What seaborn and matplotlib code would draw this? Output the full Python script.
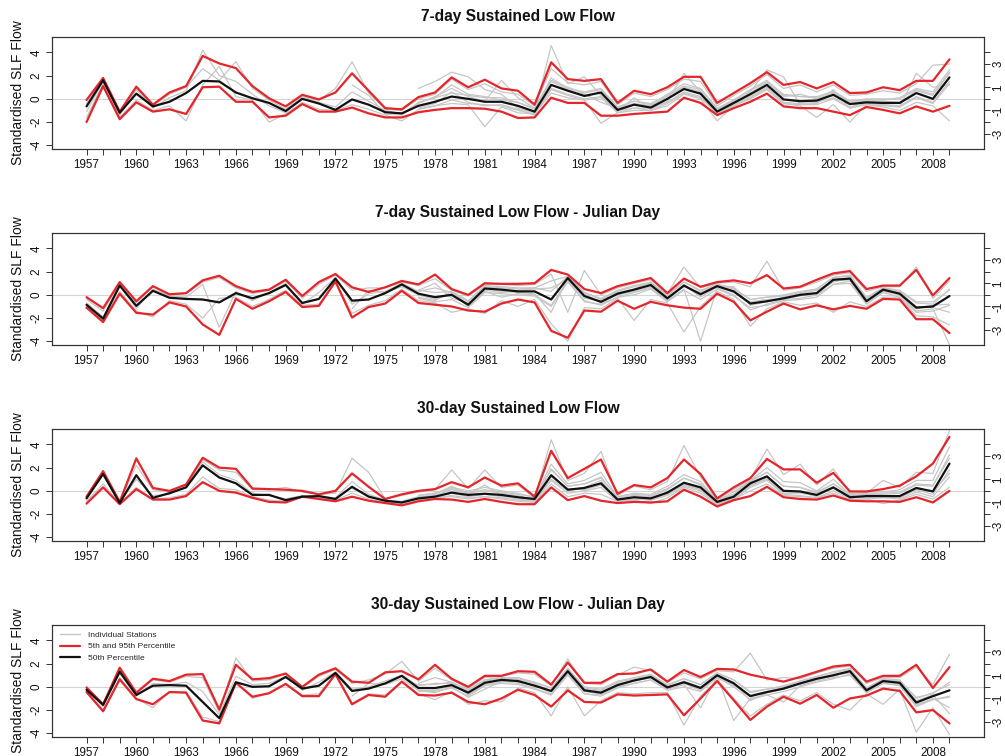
import numpy as np
import pandas as pd
import matplotlib
matplotlib.use("Agg")
import matplotlib.pyplot as plt
from matplotlib.lines import Line2D
import seaborn as sns

sns.set_theme(style="white")
plt.rcParams['font.family'] = ['Liberation Sans', 'DejaVu Sans']

years = list(range(1957, 2010))
titles = ["7-day Sustained Low Flow",
          "7-day Sustained Low Flow - Julian Day",
          "30-day Sustained Low Flow",
          "30-day Sustained Low Flow - Julian Day"]
y_label = "Standardised SLF Flow"
legend_labels = ["Individual Stations", "5th and 95th Percentile", "50th Percentile"]

# ---------------- Panel 1: 7-day SLF ----------------
p1_upper = [-0.1, 1.8, -1.1,
            1.05, -0.5, 0.55, 1.1, 3.7, 3.05, 2.65, 1.1, 0.05, -0.65,
            0.35, -0.05, 0.55, 2.2, 0.7, -0.8, -0.9, 0.15, 0.55, 1.85,
            1.0, 1.65, 0.9, 0.7, -0.5, 3.15, 1.7, 1.55, 1.7, -0.35,
            0.7, 0.4, 1.0, 1.9, 1.9, -0.35, 0.5, 1.35, 2.3, 1.2,
            1.45, 0.9, 1.45, 0.5, 0.55, 1.0, 0.75, 1.55, 1.55, 3.4]
p1_lower = [-2.0, 1.1, -1.75,
            -0.3, -1.1, -0.9, -1.3, 1.0, 1.05, -0.25, -0.25, -1.6, -1.45,
            -0.45, -1.1, -1.1, -0.75, -1.25, -1.6, -1.6, -1.15, -0.95, -0.8,
            -0.8, -0.85, -1.1, -1.65, -1.6, 0.1, -0.35, -0.35, -1.45, -1.45,
            -1.3, -1.2, -1.1, 0.1, -0.35, -1.4, -0.8, -0.25, 0.45, -0.65,
            -0.8, -0.8, -1.1, -1.4, -0.7, -0.95, -1.25, -0.65, -1.1, -0.6]
p1_median = [-0.65, 1.6, -1.2,
             0.45, -0.65, -0.25, 0.5, 1.55, 1.5, 0.55, 0.05, -0.35, -1.05,
             0.0, -0.4, -0.95, -0.05, -0.5, -1.15, -1.25, -0.6, -0.25, 0.2,
             0.0, -0.25, -0.25, -0.6, -1.1, 1.2, 0.7, 0.25, 0.55, -0.95,
             -0.5, -0.75, 0.0, 0.85, 0.45, -1.1, -0.35, 0.4, 1.2, -0.05,
             -0.2, -0.15, 0.35, -0.45, -0.3, -0.35, -0.35, 0.5, 0.0, 1.85]
p1_stations = [
    [-1.1, 1.5, -1.4,
     0.8, -0.8, 0.1, 0.7, 4.2, 2.0, 1.5, 0.4, -0.6, -1.2,
     0.2, -0.3, -0.7, 0.6, -0.2, -1.0, -1.3, -0.3, 0.1, 1.2,
     0.4, 0.2, -0.1, -0.3, -0.9, 1.8, 0.9, 0.6, 0.9, -0.7,
     -0.2, -0.5, 0.4, 1.3, 0.9, -0.8, -0.1, 0.8, 1.6, 0.3,
     0.2, 0.1, 0.7, -0.2, -0.1, -0.1, 0.1, 0.9, 0.6, 2.5],
    [-1.6, 1.3, -1.6,
     -0.1, -1.0, -0.6, -1.9, 1.2, 2.8, 0.2, -0.1, -2.0, -1.3,
     -0.3, -0.9, -1.0, -0.5, -0.9, -1.4, -1.9, -0.9, -0.6, -0.4,
     -0.5, -2.4, -0.7, -1.2, -1.3, 0.5, 0.1, -0.1, -2.1, -1.2,
     -1.0, -1.0, -0.6, 0.4, 0.0, -1.9, -0.6, 0.0, 0.8, -0.4,
     -0.6, -1.6, -0.5, -2.0, -0.5, -0.7, -1.0, -0.3, -0.6, -1.9],
    [-0.4, 1.7, -1.2,
     0.9, -0.6, 0.4, 1.0, 2.6, 1.6, 3.2, 0.9, -0.1, -0.9,
     0.3, -0.1, 0.9, 3.2, 0.5, -0.9, -1.0, 0.0, 0.4, 1.7,
     0.8, 1.3, 0.6, 0.4, -0.6, 2.6, 1.4, 1.2, 1.5, -0.5,
     0.5, 0.2, 0.8, 1.7, 1.5, -0.6, 0.3, 1.1, 2.1, 0.9,
     1.2, 0.6, 1.2, 0.3, 0.4, 0.7, 0.5, 1.3, 2.9, 3.0],
    [None] * 20 +
    [0.9, 1.5, 2.3,
     1.9, 0.8, 0.4, -0.8, -1.2, 4.6, 1.3, 1.9, 0.3, -1.1,
     0.1, -0.9, -0.2, 2.2, 0.6, -1.3, -0.5, 0.6, 2.5, 1.9,
     -0.5, -0.4, 0.8, -0.8, 0.0, -0.5, -0.7, 2.2, 1.0, 1.2],
    [None] * 20 +
    [-0.8, -0.4, 0.6,
     -0.3, -0.6, -0.5, -0.9, -1.4, 0.9, 0.4, 0.0, 0.2, -1.0,
     -0.8, -0.8, -0.3, 0.6, 0.2, -1.2, -0.5, 0.2, 1.0, -0.3,
     -0.4, -0.3, 0.1, -0.7, -0.4, -0.5, -0.6, 0.2, -0.3, 1.5],
    [None] * 16 +
    [1.2, 0.3, -1.3, -1.4, -0.4, 0.2, 0.9,
     0.2, -0.2, 1.6, 0.1, -0.8, 1.5, 0.8, 0.4, -0.3, -0.8,
     -0.4, -0.6, 0.2, 1.0, 0.6, -1.0, -0.2, 0.5, 1.4, 0.2,
     0.4, 0.0, 0.5, -0.3, -0.2, -0.2, -0.3, 0.7, 0.3, 2.2],
    [None] * 20 +
    [-0.3, 0.1, 0.5,
     0.3, 0.1, 0.1, -0.3, -0.8, 1.6, 1.0, 0.5, 0.8, -0.7,
     -0.2, -0.4, 0.3, 1.1, 0.8, -0.9, -0.1, 0.7, 1.5, 0.4,
     0.2, 0.2, 0.6, -0.2, 0.0, 0.0, 0.0, 0.8, 0.4, 2.3],
    [None] * 20 +
    [-0.9, -0.6, -0.1,
     -0.4, -0.5, -0.6, -1.0, -1.3, 0.8, 0.3, -0.1, 0.1, -1.2,
     -0.8, -1.0, -0.4, 0.5, 0.1, -1.3, -0.6, 0.1, 0.9, -0.4,
     -0.5, -0.5, 0.0, -0.8, -0.5, -0.6, -0.7, 0.1, -0.4, 1.3],
]

# ---------------- Panel 2: 7-day SLF Julian day ----------------
p2_upper = [-0.2, -1.15, 1.1,
            -0.55, 0.75, 0.05, 0.15, 1.25, 1.65, 0.75, 0.25, 0.45, 1.3,
            -0.1, 1.1, 1.8, 0.65, 0.25, 0.65, 1.2, 0.9, 1.75, 0.5,
            0.0, 1.0, 0.95, 0.95, 1.0, 2.15, 1.75, 0.5, 0.15, 0.75,
            1.1, 1.45, 0.15, 1.4, 0.7, 1.1, 1.25, 1.0, 1.7, 0.55,
            0.7, 1.3, 1.85, 2.05, 0.5, 0.8, 0.8, 2.15, -0.05, 1.45]
p2_lower = [-1.1, -2.35, 0.1,
            -1.55, -1.7, -0.65, -1.0, -2.55, -3.45, -0.35, -1.2, -0.55, 0.25,
            -1.05, -0.95, 1.15, -1.95, -1.05, -0.75, 0.35, -0.7, -0.85, -1.0,
            -1.35, -1.45, -0.75, -0.4, -0.65, -3.1, -3.7, -1.35, -1.45, -0.5,
            -1.2, -0.6, -0.9, -1.1, -1.2, 0.1, -0.6, -2.2, -1.45, -0.75,
            -1.25, -0.9, -1.25, -0.95, -1.2, -0.35, -0.4, -2.1, -2.1, -3.3]
p2_median = [-0.85, -2.05, 0.8,
             -0.95, 0.35, -0.25, -0.35, -0.4, -0.65, 0.15, -0.3, 0.15, 0.85,
             -0.7, -0.35, 1.4, -0.5, -0.4, 0.15, 0.9, 0.1, -0.2, 0.0,
             -0.85, 0.55, 0.45, 0.3, 0.3, -0.4, 1.45, -0.1, -0.6, 0.1,
             0.45, 0.85, -0.3, 0.8, 0.05, 0.75, 0.3, -0.75, -0.55, -0.3,
             0.0, 0.15, 1.3, 1.4, -0.55, 0.45, 0.1, -1.1, -1.0, -0.1]
p2_stations = [
    [-0.7, -1.9, 0.9,
     -1.2, 0.5, -0.1, -0.2, 0.9, -2.8, 0.3, -0.5, 0.2, 1.0,
     -0.8, 0.2, 1.5, -0.8, 0.1, 0.3, 1.0, 0.3, 0.6, 0.2,
     -0.6, 0.7, 0.6, 0.5, 0.6, 1.2, 1.6, 0.2, -0.4, 0.3,
     0.7, 1.0, -0.1, 1.1, 0.3, 0.9, 0.5, -0.4, -0.2, -0.1,
     0.2, 0.5, 1.5, 1.6, -0.3, 0.6, 0.3, -0.7, -0.8, 0.5],
    [-1.0, -2.2, 0.3,
     -1.4, -1.9, -0.5, -0.8, -2.0, -0.3, -0.2, -1.0, -0.4, 0.4,
     -0.9, -0.8, 1.2, -1.6, -0.9, -0.5, 0.5, -0.5, -0.7, -1.5,
     -1.2, -1.6, -0.5, -1.0, -0.4, -2.5, -4.0, -1.1, -1.2, -0.3,
     -2.2, -0.4, -0.7, -3.2, -1.0, 0.3, -0.4, -2.7, -1.2, -0.6,
     -0.9, -0.7, -1.5, -0.6, -1.0, -0.2, -0.2, -1.8, -1.9, -2.6],
    [-0.4, -1.4, 1.0,
     -0.7, 0.7, 0.0, 0.1, 1.1, 1.5, 0.6, 0.1, 0.4, 1.2,
     -0.3, 0.9, 1.7, 0.4, 0.6, 0.6, 1.1, 0.8, 1.4, 0.4,
     -0.1, 0.9, 0.9, 0.8, 0.9, 1.8, -1.5, 2.1, 0.0, 0.6,
     1.0, 1.3, 0.1, 2.4, 0.6, 1.0, 1.1, 0.7, 2.9, 0.4,
     0.6, 1.1, 1.7, 1.9, 0.3, 0.7, 0.7, 2.4, -0.3, 1.2],
    [None] * 16 +
    [-1.2, 0.4, 0.2, 0.7, 0.0, -0.4, 0.1,
     -1.0, 0.3, -0.2, 0.1, 0.0, -0.9, 1.2, -0.6, -0.8, -0.2,
     0.2, 0.6, -0.5, 0.5, -4.0, 0.6, 0.0, -1.3, -0.8, -0.4,
     -0.3, 0.0, 0.9, 1.2, -0.8, 0.3, 0.0, -1.4, -1.2, -4.3],
    [None] * 20 +
    [0.4, 1.0, -0.3,
     -0.7, 0.4, 0.2, 0.4, 0.5, 0.6, 1.3, -0.3, -0.5, 0.2,
     0.5, 1.1, -0.2, 0.7, 0.2, 0.8, 0.7, -0.9, -0.6, -0.2,
     0.1, 0.4, 1.2, 1.3, -0.4, 0.5, 0.2, -1.0, -1.1, -1.5],
    [None] * 20 +
    [-0.2, -0.5, 0.3,
     -0.9, 0.6, 0.3, 0.2, 0.1, -1.5, 1.5, 0.1, -0.7, 0.0,
     0.3, 0.7, -0.4, 0.9, -0.2, 0.7, 0.2, -0.6, -0.4, -0.3,
     -0.1, 0.2, 1.1, 1.5, -0.6, 0.4, 0.0, -1.2, -0.9, -0.8],
    [None] * 20 +
    [0.4, 0.2, 0.3,
     -0.5, 0.8, 0.7, 0.6, 0.6, 0.3, 1.6, 0.2, -0.3, 0.4,
     0.8, 1.1, 0.0, 1.1, 0.4, 0.9, 0.6, -0.4, -0.2, 0.0,
     0.3, 0.5, 1.5, 1.7, -0.2, 0.6, 0.4, -0.6, -0.6, 0.4],
    [None] * 20 +
    [-0.3, -0.6, -0.4,
     -1.1, 0.2, 0.1, 0.0, -0.1, -1.0, 1.1, -0.5, -0.9, -0.2,
     0.0, 0.5, -0.6, 0.4, -0.4, 0.5, -0.1, -1.1, -0.9, -0.5,
     -0.4, -0.2, 0.9, 1.0, -0.8, 0.2, -0.2, -1.5, -1.4, -0.9],
]

# ---------------- Panel 3: 30-day SLF ----------------
p3_upper = [-0.5, 1.7, -0.95,
            2.8, 0.25, 0.0, 0.55, 2.85, 2.0, 1.9, 0.2, 0.15, 0.1,
            0.0, -0.3, 0.0, 1.5, 0.35, -0.7, -0.3, 0.0, 0.15, 0.75,
            0.3, 1.15, 0.45, 0.65, -0.5, 3.45, 1.1, 1.9, 2.7, -0.25,
            0.5, 0.3, 1.1, 2.7, 1.45, -0.65, 0.3, 1.1, 2.75, 1.85,
            1.85, 0.7, 1.55, -0.05, -0.05, 0.15, 0.45, 1.25, 2.35, 4.65]
p3_lower = [-1.1, 0.3, -1.15,
            0.15, -0.75, -0.75, -0.45, 0.75, 0.0, -0.15, -0.6, -0.95, -1.0,
            -0.5, -0.7, -0.9, -0.5, -0.85, -1.05, -1.25, -0.9, -0.7, -0.75,
            -0.95, -0.7, -0.95, -1.15, -1.15, 0.3, -0.8, -0.45, -0.85, -1.05,
            -0.95, -1.0, -0.9, 0.1, -0.5, -1.35, -0.8, -0.45, 0.35, -0.55,
            -0.7, -0.75, -0.4, -0.85, -0.9, -0.9, -0.95, -0.55, -1.0, 0.0]
p3_median = [-0.65, 1.45, -1.05,
             1.35, -0.6, -0.2, 0.3, 2.2, 1.15, 0.65, -0.35, -0.35, -0.8,
             -0.5, -0.45, -0.7, 0.35, -0.5, -0.85, -1.0, -0.65, -0.5, -0.15,
             -0.35, -0.25, -0.35, -0.55, -0.7, 1.35, 0.1, 0.25, 0.65, -0.75,
             -0.55, -0.65, -0.15, 0.7, 0.3, -0.95, -0.5, 0.65, 1.25, 0.0,
             -0.05, -0.35, 0.3, -0.55, -0.45, -0.45, -0.45, 0.25, -0.05, 2.35]
p3_stations = [
    [-0.6, 1.5, -1.0,
     1.0, -0.4, -0.3, 0.4, 2.5, 1.4, 0.9, -0.2, -0.4, -0.7,
     -0.4, -0.5, -0.6, 0.8, -0.3, -0.8, -0.9, -0.5, -0.4, 0.1,
     -0.2, 0.0, -0.2, -0.4, -0.8, 1.9, 0.4, 0.6, 1.2, -0.6,
     -0.4, -0.5, 0.1, 1.1, 0.5, -0.9, -0.3, 0.8, 1.6, 0.4,
     0.3, -0.2, 0.6, -0.4, -0.3, -0.3, -0.2, 0.5, 0.4, 3.1],
    [-0.9, 0.6, -1.1,
     0.3, -0.7, -0.6, -0.3, 1.2, 0.2, 0.1, -0.5, -0.8, -0.9,
     -0.5, -0.6, -0.8, -0.2, -0.7, -1.0, -1.2, -0.8, -0.6, -0.5,
     -0.7, -0.5, -0.7, -0.9, -1.0, 0.6, -0.5, -0.2, -0.3, -0.9,
     -0.8, -1.1, -0.6, 0.3, -0.2, -1.2, -0.7, 0.0, 0.6, -0.4,
     -0.5, -0.6, -0.2, -0.8, -0.7, -1.1, -0.8, -0.3, -0.7, 0.3],
    [-0.5, 1.6, -1.0,
     2.2, 0.1, -0.1, 0.5, 2.7, 1.8, 1.6, 0.1, 0.1, 0.3,
     -0.1, -0.3, -0.2, 2.8, 1.6, -0.7, -0.4, -0.1, 0.1, 1.8,
     0.2, 1.8, 0.3, 0.5, -0.6, 4.4, 0.9, 1.5, 3.4, -0.4,
     0.4, 0.1, 0.8, 3.9, 1.2, -0.7, 0.1, 1.0, 3.6, 1.4,
     2.3, 0.5, 1.9, -0.2, -0.2, 0.9, 0.3, 1.6, 1.5, 5.2],
    [None] * 16 +
    [0.2, -0.4, -0.9, -1.1, -0.6, -0.3, 0.4,
     -0.3, 0.5, -0.4, -0.7, -0.9, 1.0, 0.0, 0.3, 0.9, -0.8,
     -0.7, -0.7, -0.3, 0.6, 0.2, -1.0, -0.6, 0.5, 1.0, -0.2,
     -0.2, -0.4, 0.2, -0.6, -0.5, -0.5, -0.6, 0.1, -0.3, 1.8],
    [None] * 20 +
    [-0.4, -0.2, 0.3,
     0.0, 0.3, 0.0, -0.2, -0.6, 2.3, 0.6, 0.9, 1.6, -0.5,
     -0.2, -0.3, 0.4, 1.4, 0.8, -0.8, -0.1, 0.9, 2.0, 0.8,
     0.7, 0.0, 1.0, -0.3, -0.1, -0.1, 0.1, 0.9, 0.9, 3.8],
    [None] * 20 +
    [-0.7, -0.5, -0.2,
     -0.5, -0.3, -0.5, -0.6, -0.8, 1.2, 0.2, 0.1, 0.5, -0.7,
     -0.6, -0.8, -0.2, 0.5, 0.1, -1.1, -0.5, 0.4, 1.1, 0.0,
     -0.1, -0.5, 0.3, -0.5, -0.6, -0.4, -0.5, 0.2, 0.0, 1.5],
    [None] * 20 +
    [-0.4, -0.2, 0.2,
     -0.1, 0.1, -0.1, -0.3, -0.5, 1.8, 0.4, 0.6, 1.1, -0.5,
     -0.3, -0.4, 0.2, 1.1, 0.6, -0.8, -0.3, 0.9, 1.6, 0.4,
     0.3, -0.1, 0.6, -0.3, -0.2, -0.2, -0.1, 0.6, 0.5, 2.8],
    [None] * 20 +
    [-0.8, -0.6, -0.4,
     -0.6, -0.5, -0.6, -0.8, -0.9, 0.9, -0.2, 0.0, 0.3, -0.9,
     -0.7, -0.8, -0.4, 0.4, 0.0, -1.1, -0.7, 0.3, 0.9, -0.3,
     -0.4, -0.6, 0.0, -0.7, -0.7, -0.6, -0.7, -0.1, -0.5, 1.2],
]

# ---------------- Panel 4: 30-day SLF Julian day ----------------
p4_upper = [-0.05, -1.5, 1.65,
            -0.5, 0.7, 0.5, 1.05, 1.1, -1.95, 1.9, 0.65, 0.75, 1.15,
            0.0, 1.05, 1.6, 0.45, 0.35, 1.25, 1.35, 0.65, 1.9, 0.7,
            0.0, 0.95, 0.95, 1.35, 1.3, 0.2, 2.1, 0.35, 0.35, 1.1,
            1.15, 1.5, 0.45, 1.45, 0.85, 1.55, 1.5, 1.05, 0.75, 0.45,
            0.85, 1.3, 1.75, 1.9, 0.45, 0.95, 0.95, 1.9, -0.1, 1.7]
p4_lower = [-0.45, -2.1, 0.65,
            -1.05, -1.5, -0.45, -0.5, -2.9, -3.15, 0.35, -0.85, -0.55, 0.25,
            -0.8, -0.8, 1.1, -1.5, -0.7, -0.85, 0.45, -0.7, -0.75, -0.5,
            -1.3, -1.5, -1.0, -0.25, -0.7, -1.7, -0.3, -1.3, -1.35, -0.65,
            -0.75, -0.7, -0.65, -2.45, -1.0, 0.5, -1.15, -2.85, -1.7, -0.85,
            -1.45, -0.7, -1.8, -1.0, -0.75, -0.15, -0.35, -2.2, -2.0, -3.15]
p4_median = [-0.25, -1.55, 1.3,
             -0.7, 0.1, 0.15, 0.1, -1.3, -2.7, 0.4, 0.0, 0.05, 0.85,
             -0.15, 0.1, 1.2, -0.35, -0.15, 0.3, 0.95, -0.1, -0.1, 0.15,
             -0.5, 0.35, 0.6, 0.5, 0.1, -0.35, 1.35, -0.3, -0.5, 0.15,
             0.55, 0.85, -0.05, 0.4, -0.1, 1.0, 0.3, -0.8, -0.45, -0.15,
             0.3, 0.7, 1.0, 1.35, -0.3, 0.5, 0.35, -1.35, -0.8, -0.3]
p4_stations = [
    [-0.2, -1.7, 1.2,
     -0.8, 0.3, 0.2, 0.4, -0.4, -2.4, 0.9, 0.2, 0.3, 0.9,
     -0.3, 0.4, 1.3, -0.2, 0.0, 0.5, 1.0, 0.1, 0.3, 0.3,
     -0.4, 0.5, 0.7, 0.7, 0.4, -0.1, 1.5, -0.1, -0.3, 0.4,
     0.7, 1.0, 0.1, 0.7, 0.2, 1.2, 0.6, -0.4, -0.2, 0.0,
     0.5, 0.9, 1.2, 1.5, -0.1, 0.6, 0.5, -0.9, -0.6, 0.4],
    [-0.4, -2.0, 0.8,
     -1.0, -1.8, -0.4, -0.4, -2.6, -3.0, 0.4, -1.0, -0.5, 0.3,
     -0.7, -0.6, 1.1, -1.4, -0.6, -0.7, 0.5, -0.6, -1.1, -0.4,
     -1.5, -1.2, -1.3, -0.1, -0.5, -2.5, 0.0, -2.5, -1.2, -0.5,
     -0.6, -0.5, -0.5, -3.3, -0.8, 0.6, -1.0, -2.5, -1.5, -0.7,
     -1.2, -0.5, -1.5, -2.0, -0.6, -1.5, -0.2, -3.9, -1.8, -4.1],
    [-0.1, -1.5, 1.5,
     -0.6, 0.6, 0.4, 0.9, 0.8, -2.2, 2.5, 0.5, 0.6, 1.1,
     -0.1, 0.9, 1.5, 0.3, 0.6, 1.1, 2.2, 0.5, 1.6, 0.6,
     -0.1, 0.8, 0.9, 1.2, 1.1, 0.1, 2.4, 0.3, 0.2, 1.0,
     1.7, 1.4, 0.4, 1.2, 0.7, 1.4, 1.3, 2.9, 0.6, 0.8,
     0.7, 1.2, 1.6, 1.8, 0.3, 0.8, 0.8, 1.7, 0.2, 2.8],
    [None] * 16 +
    [-0.8, 0.3, 0.2, 0.7, -0.3, -0.5, 0.0,
     -0.9, -0.2, 0.5, 0.3, -0.1, -0.7, 1.2, -0.6, -0.7, 0.0,
     0.3, 0.6, -0.2, 0.2, -1.8, 0.9, -2.9, -1.0, -0.7, -1.3,
     0.1, 0.5, 0.8, 1.0, -0.5, 0.3, 0.2, -1.6, -1.0, -1.8],
    [None] * 20 +
    [0.3, 0.8, 0.4,
     -0.7, 0.2, 0.4, 0.6, 0.3, -0.4, 1.1, -0.4, -0.6, 0.3,
     0.5, 0.8, -0.1, 0.5, 0.0, 1.0, 0.4, -1.2, -0.5, -0.2,
     0.2, 0.6, 1.0, 1.2, -0.4, 0.4, 0.3, -1.5, -1.1, -0.9],
    [None] * 20 +
    [-0.3, -0.3, 0.1,
     -0.3, 0.6, 0.8, 0.4, 0.2, -0.6, 1.6, -0.2, -0.4, 0.2,
     0.6, 0.9, 0.0, 0.3, -0.3, 0.9, 0.1, -0.7, -0.4, -0.1,
     0.3, 0.7, 0.9, 1.4, -0.2, 0.6, 0.4, -1.2, -0.7, -2.3],
    [None] * 20 +
    [0.2, 0.2, 0.4,
     -0.2, 0.6, 0.8, 0.8, 0.4, -0.1, 1.6, 0.0, -0.2, 0.5,
     0.8, 1.1, 0.2, 0.7, 0.2, 1.2, 0.6, -0.5, -0.2, 0.1,
     0.5, 0.9, 1.3, 1.6, -0.1, 0.7, 0.6, -1.0, -0.5, 0.2],
    [None] * 20 +
    [-0.4, -0.4, -0.1,
     -0.8, 0.1, 0.3, 0.2, -0.2, -0.7, 1.0, -0.6, -0.8, -0.1,
     0.3, 0.6, -0.3, 0.0, -0.4, 0.8, 0.0, -1.1, -0.7, -0.4,
     0.0, 0.4, 0.7, 1.1, -0.5, 0.3, 0.1, -1.7, -1.1, -0.8],
]

panels = [
    (p1_upper, p1_lower, p1_median, p1_stations),
    (p2_upper, p2_lower, p2_median, p2_stations),
    (p3_upper, p3_lower, p3_median, p3_stations),
    (p4_upper, p4_lower, p4_median, p4_stations),
]

for up, lo, med, sts in panels:
    assert len(up) == len(lo) == len(med) == len(years), (len(up), len(lo), len(med))
    for s in sts:
        assert len(s) == len(years), len(s)

RED = "#e3262b"
GREY = "#c6c6c6"
BLACK = "#111111"
FRAME = "#333333"

W, H = 1005, 756
fig = plt.figure(figsize=(W / 100, H / 100), dpi=100)

left_px, right_px = 52, 984
ax_h = 112


def long_frame(series_list, prefix):
    rows = []
    for i, vals in enumerate(series_list):
        for yr, v in zip(years, vals):
            rows.append((f"{prefix}{i}", yr, v))
    df = pd.DataFrame(rows, columns=["series", "year", "value"])
    df["value"] = pd.to_numeric(df["value"], errors="coerce")
    return df.dropna()


for k, (up, lo, med, sts) in enumerate(panels):
    top_px = 37 + 196 * k
    bottom_px = top_px + ax_h
    ax = fig.add_axes([left_px / W, 1 - bottom_px / H,
                       (right_px - left_px) / W, ax_h / H])
    ax.axhline(0, color="#d4d4d4", lw=0.8, zorder=1)

    st_df = long_frame(sts, "s")
    sns.lineplot(data=st_df, x="year", y="value", units="series", estimator=None,
                 color=GREY, lw=0.9, ax=ax, legend=False, sort=False, zorder=2)
    pct_df = long_frame([up, lo], "p")
    sns.lineplot(data=pct_df, x="year", y="value", units="series", estimator=None,
                 color=RED, lw=1.6, ax=ax, legend=False, sort=False, zorder=3)
    med_df = pd.DataFrame({"year": years, "value": med})
    sns.lineplot(data=med_df, x="year", y="value", color=BLACK, lw=1.6,
                 ax=ax, legend=False, zorder=4)

    ax.set_xlim(1954.92, 2011.08)
    ax.set_ylim(-4.32, 5.33)
    ax.set_xlabel("")
    ax.set_ylabel("")

    ax.set_xticks(years)
    ax.set_xticklabels([str(y) if (y - 1957) % 3 == 0 else "" for y in years])
    ax.set_yticks([-4, -2, 0, 2, 4])
    ax.set_yticklabels(["-4", "-2", "0", "2", "4"], rotation=90, va="center")
    ax.tick_params(axis="x", bottom=True, length=4.5, width=0.7, color=FRAME,
                   labelsize=8.4, pad=2.5, labelcolor="#111111")
    ax.tick_params(axis="y", left=True, length=4.5, width=0.7, color=FRAME,
                   labelsize=8.4, pad=2.5, labelcolor="#111111")
    for sp in ax.spines.values():
        sp.set_color(FRAME)
        sp.set_linewidth(0.8)

    ax2 = ax.twinx()
    ax2.set_ylim(ax.get_ylim())
    ax2.set_yticks(list(range(-3, 5)))
    ax2.set_yticklabels(["-3", "", "-1", "", "1", "", "3", ""],
                        rotation=90, va="center")
    ax2.tick_params(axis="y", right=True, length=4.5, width=0.7, color=FRAME,
                    labelsize=8.4, pad=1.5, labelcolor="#111111")
    ax2.grid(False)
    for sp in ax2.spines.values():
        sp.set_color(FRAME)
        sp.set_linewidth(0.8)

    ax.text(0.5, 1 + 20 / ax_h, titles[k], transform=ax.transAxes,
            ha="center", va="center", fontsize=11.2, fontweight="bold",
            color="#111111")
    ax.text((18 - left_px) / (right_px - left_px), 0.5, y_label,
            transform=ax.transAxes, rotation=90, ha="center", va="center",
            fontsize=10, color="#111111")

    if k == 3:
        handles = [Line2D([], [], color=GREY, lw=1.0),
                   Line2D([], [], color=RED, lw=1.6),
                   Line2D([], [], color=BLACK, lw=1.6)]
        ax.legend(handles, legend_labels, loc="upper left",
                  bbox_to_anchor=(8 / 932, 1 - 6 / ax_h), frameon=False,
                  fontsize=6, handlelength=2.4, handletextpad=1.0,
                  labelspacing=0.45, borderpad=0, borderaxespad=0)

fig.savefig("out.png", dpi=100)
